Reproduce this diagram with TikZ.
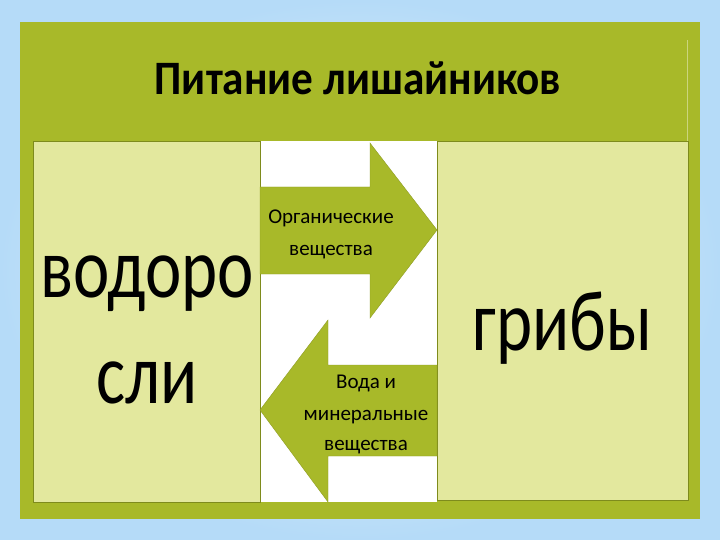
\documentclass[tikz,border=0pt]{standalone}
\usepackage{fontspec}
\setmainfont{Carlito}
\begin{document}
\begin{tikzpicture}[x=1pt,y=-1pt]
\definecolor{olive}{HTML}{A8B929}
\definecolor{boxfill}{HTML}{E3E89E}
\definecolor{boxline}{HTML}{7E8B1C}
\definecolor{skyout}{HTML}{B5DBF8}
\definecolor{skyin}{HTML}{F2F8FE}
\tikzset{
  panelbox/.style={draw=boxline,line width=0.8pt,fill=boxfill},
  flowarrow/.style={fill=olive,draw=olive!85!black,line width=0.4pt},
  bigword/.style={anchor=base,inner sep=0pt,font=\fontsize{86}{100}\selectfont},
  smallword/.style={anchor=base,inner sep=0pt,font=\fontsize{21}{25}\selectfont},
}
\newcommand{\narrow}[2]{\scalebox{#1}[1]{#2}}
\useasboundingbox (0,0) rectangle (720,540);
\shade[inner color=skyin,outer color=skyout] (0,0) rectangle (720,540);
% green panel
\fill[olive] (20,22) rectangle (700,519);
\draw[olive!60!white,line width=0.6pt] (687,40) -- (687,141);
\draw[olive!80!black,line width=0.8pt] (33,141) -- (688,141);
% middle white area
\fill[white] (260,141) rectangle (437,502);
% boxes
\node[panelbox,anchor=north west,minimum width=227,minimum height=361,inner sep=0pt] (left) at (33,141) {};
\node[panelbox,anchor=north west,minimum width=251,minimum height=359,inner sep=0pt] (right) at (437,141) {};
% title
\node[anchor=base,inner sep=0pt,font=\fontsize{48}{50}\selectfont\bfseries] (title) at (358,95) {\narrow{0.9}{Питание лишайников}};
% arrows
\draw[flowarrow] (260,187) -- (370,187) -- (370,143) -- (437,230) -- (370,318) -- (370,274) -- (260,274) -- cycle;
\draw[flowarrow] (437,365) -- (328,365) -- (328,320) -- (260,410) -- (328,502) -- (328,456) -- (437,456) -- cycle;
% big words
\node[bigword] (alg1) at (147,297) {\narrow{0.8}{водоро}};
\node[bigword] (alg2) at (147,403) {\narrow{0.8}{сли}};
\node[bigword] (fungi) at (562,350) {\narrow{0.8}{грибы}};
% arrow labels
\node[smallword] (org1) at (331,224) {Органические};
\node[smallword] (org2) at (331,255) {вещества};
\node[smallword] (wat1) at (366,388) {Вода и};
\node[smallword] (wat2) at (366,420) {минеральные};
\node[smallword] (wat3) at (366,450) {вещества};
\end{tikzpicture}
\end{document}
